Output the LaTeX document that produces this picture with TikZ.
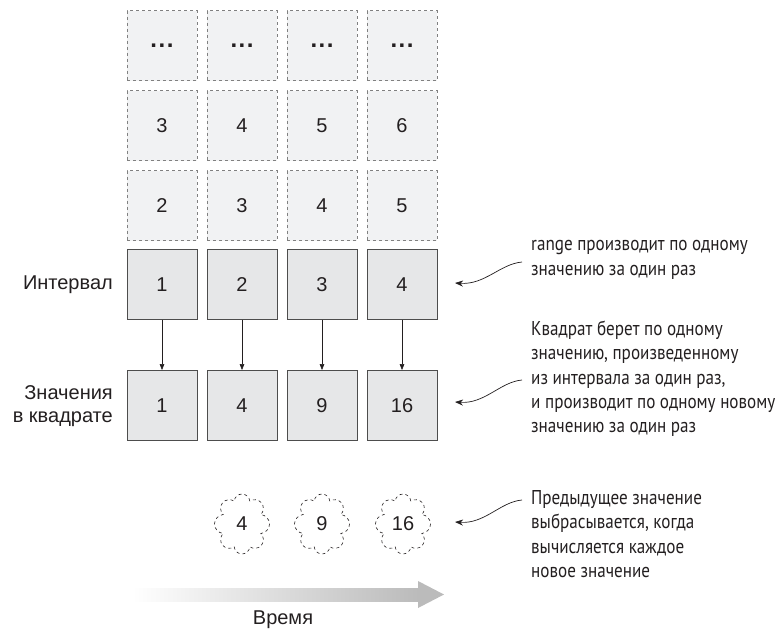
\documentclass[tikz,border=0pt]{standalone}
\usepackage{fontspec}
\setmainfont{Liberation Sans}
\newfontfamily\annot[FakeStretch=0.855]{PT Sans}
\usetikzlibrary{shapes.symbols,arrows.meta}
\definecolor{ink}{HTML}{231F20}
\definecolor{ghostfill}{HTML}{F1F2F3}
\definecolor{ghostline}{HTML}{808080}
\definecolor{boxfill}{HTML}{E6E7E8}
\definecolor{boxline}{HTML}{4D4D4D}
\definecolor{timegray}{HTML}{BBBBBB}
\tikzset{
  ghostbox/.style={draw=ghostline, dashed, fill=ghostfill, minimum width=70pt, minimum height=70pt, inner sep=0pt, font=\fontsize{20}{24}\selectfont, text=ink},
  realbox/.style={draw=boxline, fill=boxfill, minimum width=70pt, minimum height=70pt, inner sep=0pt, font=\fontsize{20}{24}\selectfont, text=ink, line width=0.8pt},
  rowlabel/.style={font=\fontsize{20}{23}\selectfont, text=ink, align=right, anchor=east, inner sep=0pt},
  flow/.style={draw=ink, line width=0.6pt, -{Triangle[length=6pt,width=4.5pt]}},
  puff/.style={cloud, cloud puffs=8, cloud puff arc=170, aspect=0.85, draw=ink, dashed, line width=0.6pt, minimum width=55pt, minimum height=60pt, inner sep=0pt, font=\fontsize{20}{24}\selectfont, text=ink},
  note/.style={font=\annot\fontsize{20}{24.3}\selectfont, text=ink, align=left, anchor=west, inner sep=0pt},
  pointer/.style={draw=ink, line width=0.7pt, -{Stealth[length=8pt,width=6pt]}}
}
\newcommand{\threedots}{{\fontsize{24}{24}\selectfont\textbf{.\hspace{1.5pt}.\hspace{1.5pt}.}}}
\begin{document}
\begin{tikzpicture}[x=1pt,y=-1pt]
\useasboundingbox (0,0) rectangle (782,630);
% ghost rows
\foreach \i in {1,2,3,4}
  \node[ghostbox] (r1c\i) at (82+80*\i,45.5) {\threedots};
\foreach \i/\v in {1/3,2/4,3/5,4/6}
  \node[ghostbox] (r2c\i) at (82+80*\i,125.5) {\v};
\foreach \i/\v in {1/2,2/3,3/4,4/5}
  \node[ghostbox] (r3c\i) at (82+80*\i,205.5) {\v};
% range row
\foreach \i/\v in {1/1,2/2,3/3,4/4}
  \node[realbox] (rg\i) at (82+80*\i,284.5) {\v};
% squared row
\foreach \i/\v in {1/1,2/4,3/9,4/16}
  \node[realbox] (sq\i) at (82+80*\i,405.5) {\v};
\foreach \i in {1,2,3,4}
  \draw[flow] (rg\i) -- (sq\i);
% row labels
\node[rowlabel] (lrange) at (113,284.5) {Интервал};
\node[rowlabel] (lsq) at (113,406) {Значения\\в квадрате};
% clouds
\node[puff] (cl1) at (242,524) {4};
\node[puff] (cl2) at (322,524) {9};
\node[puff] (cl3) at (403,524) {16};
% time arrow
\shade[left color=white, right color=timegray] (132,588) rectangle (418.5,601);
\fill[timegray] (418,581) -- (444,594.5) -- (418,608) -- cycle;
\node[font=\fontsize{20}{24}\selectfont, text=ink] (time) at (283,620) {Время};
% notes
\node[note] (n1) at (531,260) {range производит по одному\\значению за один раз};
\node[note] (n2) at (531,379) {Квадрат берет по одному\\значению, произведенному\\из интервала за один раз,\\и производит по одному новому\\значению за один раз};
\node[note] (n3) at (531,534) {Предыдущее значение\\выбрасывается, когда\\вычисляется каждое\\новое значение};
\coordinate (a1s) at (522,262);
\coordinate (a1e) at (455,283);
\coordinate (a2s) at (522,380);
\coordinate (a2e) at (455,402);
\coordinate (a3s) at (522,500);
\coordinate (a3e) at (455,522);
\draw[pointer] (a1s) .. controls (500,264) and (485,285) .. (a1e);
\draw[pointer] (a2s) .. controls (500,382) and (485,404) .. (a2e);
\draw[pointer] (a3s) .. controls (500,502) and (485,524) .. (a3e);
\end{tikzpicture}
\end{document}
